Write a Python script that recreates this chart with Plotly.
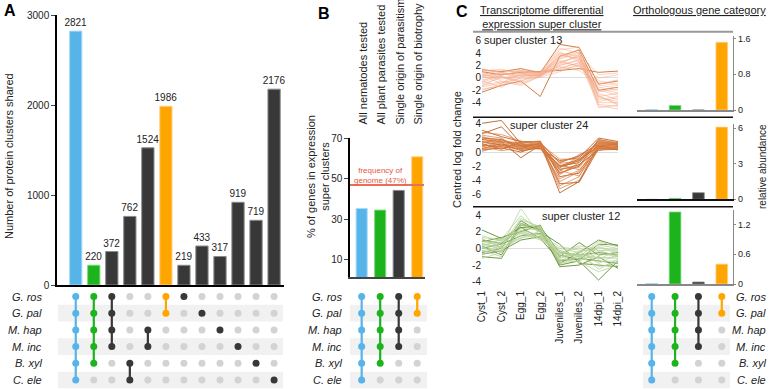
import plotly.graph_objects as go

W, H = 778, 389
def px(x): return x / W
def py(y): return 1 - y / H

FONT = "Liberation Sans, Arial, sans-serif"
BLUE, GREEN, DARK, ORANGE, GRAY = "#56b4e9", "#1db31d", "#383838", "#ffa500", "#d3d3d3"

# ---------------- data ----------------
species = ["G. ros", "G. pal", "M. hap", "M. inc", "B. xyl", "C. ele"]

# Panel A: protein clusters shared (UpSet)
a_values = [2821, 220, 372, 762, 1524, 1986, 219, 433, 317, 919, 719, 2176]
a_sets = [[0, 1, 2, 3, 4, 5], [0, 1, 2, 3, 4], [0, 1, 2, 3], [4, 5], [2, 3], [0, 1],
          [0], [1], [2], [3], [4], [5]]

# Panel B: % of genes in expression super clusters
b_categories = ["All nematodes tested", "All plant parasites tested",
                "Single origin of parasitism", "Single origin of biotrophy"]
b_values = [35.4, 34.6, 44.3, 60.9]
b_sets = [[0, 1, 2, 3, 4, 5], [0, 1, 2, 3, 4], [0, 1, 2, 3], [0, 1]]
genome_frequency = 47

# Panel C: expression profiles and relative abundance
timepoints = ["Cyst_1", "Cyst_2", "Egg_1", "Egg_2", "Juveniles_1", "Juveniles_2", "14dpi_1", "14dpi_2"]
cluster_names = ["super cluster 13", "super cluster 24", "super cluster 12"]

cluster13_profiles = [
    [1.3, 1.0, 1.5, 0.8, 5.4, 4.9, -1.0, -0.5],
    [-2.3, -1.2, -0.5, -3.0, 3.5, 4.5, -2.0, -1.5],
    [1.0, 0.5, 0.9, 1.0, 1.2, 1.5, 0.9, 1.1],
    [0.5, 1.2, 1.0, 0.8, 4.5, 5.0, -4.3, -4.6],
    [-1.5, -0.8, 0.0, 0.6, 3.0, 4.0, -3.5, -3.0],
    [0.0, 0.3, -0.5, 0.5, 2.5, 2.0, -1.5, -2.0],
    [-1.0, 0.0, 0.5, 0.3, 2.0, 3.0, -2.5, -3.5],
    [0.8, -0.5, -1.0, 0.2, 3.8, 3.0, -0.5, -1.0],
    [-0.5, -1.5, 0.2, 0.7, 1.5, 2.5, -4.0, -4.0],
    [1.5, 0.8, 0.3, 0.4, 4.0, 3.5, -3.0, -2.5],
    [-2.0, -1.0, 1.5, 0.9, 2.8, 1.8, 0.0, 0.5],
    [0.3, 0.8, -0.2, 0.1, 1.0, 2.2, -2.0, -2.8],
    [-0.8, 0.5, 1.0, 0.6, 3.2, 4.2, -4.5, -5.0],
    [0.6, -0.2, 0.4, 0.9, 1.8, 1.2, -1.0, -0.3],
    [-1.2, -0.6, -1.2, 0.3, 2.2, 3.8, -3.0, -4.2],
    [1.1, 1.4, 0.7, 1.0, 4.8, 4.0, 0.5, 0.8],
    [0.2, 0.6, 0.8, 0.5, 2.0, 2.8, -2.2, -1.8],
    [-0.3, 0.2, -0.8, 0.4, 3.6, 3.2, -3.8, -3.2],
    [1.2, 0.9, 1.2, 0.7, 2.6, 3.4, -1.2, -1.6],
    [-1.8, -1.3, 0.6, 0.2, 1.6, 2.4, -2.8, -4.4],
    [0.9, 0.2, -0.6, 0.9, 3.4, 4.6, -3.2, -3.8],
    [-0.6, 0.9, 0.3, 0.5, 1.4, 1.9, -0.8, -1.2],
    [0.4, -0.9, 0.8, 0.3, 2.4, 3.6, -4.8, -4.4],
    [-1.4, 0.4, 1.2, 0.8, 4.2, 2.6, -1.8, -2.4],
]
cluster24_profiles = [
    [4.1, 4.5, 1.2, 1.0, -2.0, -1.5, 1.5, 1.0],
    [3.1, 2.2, 1.5, 1.4, -5.8, -4.2, 1.0, 0.8],
    [2.6, 3.6, 0.8, 1.2, -4.5, -4.3, 0.5, 0.6],
    [1.8, 1.5, -0.8, 1.0, -3.0, -2.0, 1.8, 1.2],
    [1.5, 1.0, 1.0, 0.8, -2.0, -1.0, 0.8, 0.6],
    [1.0, 0.8, 0.5, 1.3, -1.5, -0.5, 1.2, 1.0],
    [0.5, 1.2, 0.2, 0.6, -2.5, -1.8, 0.3, 0.4],
    [1.2, 0.4, 1.4, 1.5, -3.5, -3.0, 0.6, 1.4],
    [2.0, 1.8, 0.9, 0.5, -1.2, -0.8, 2.0, 1.5],
    [0.3, 0.6, 0.0, 0.9, -2.2, -1.2, 0.9, 0.3],
    [1.6, 1.3, 1.1, 1.1, -4.8, -3.5, 1.4, 0.9],
    [0.8, 0.2, 0.6, 0.4, -1.8, -2.5, 0.2, 0.8],
    [2.2, 1.6, 1.3, 1.6, -3.2, -1.5, 1.6, 1.1],
    [1.3, 1.9, 0.4, 0.7, -2.8, -0.3, 0.4, 0.5],
    [0.1, 0.9, 0.8, 1.2, -1.0, -1.0, 1.1, 1.3],
    [2.8, 2.5, 1.6, 0.9, -5.2, -4.0, 0.7, 0.7],
    [1.9, 1.1, 0.7, 1.0, -2.4, -2.2, 1.3, 0.9],
    [0.7, 1.5, 1.2, 0.6, -3.8, -2.6, 0.8, 1.2],
    [2.4, 2.0, 0.3, 1.4, -1.6, -1.3, 1.7, 1.4],
    [1.1, 0.5, 0.9, 0.9, -2.6, -3.4, 0.5, 0.6],
    [0.4, 1.0, 1.5, 1.2, -3.0, -1.8, 1.0, 0.9],
    [1.4, 0.9, 0.4, 0.7, -1.4, -0.6, 0.6, 1.1],
    [2.1, 1.4, 1.0, 1.3, -4.2, -2.8, 1.2, 0.5],
    [0.9, 1.7, 0.6, 0.8, -2.0, -1.1, 1.5, 1.2],
]
cluster12_profiles = [
    [2.2, 1.2, 2.5, 2.6, -0.5, -0.8, -0.5, -0.8],
    [-1.0, -1.2, 2.8, 2.4, -2.0, -1.5, -3.8, -1.5],
    [0.8, 1.3, 2.0, 2.8, -1.8, -0.5, 1.0, 0.3],
    [1.0, 0.6, 2.5, 1.2, -1.5, -1.2, -1.5, -1.8],
    [0.3, -0.8, 3.0, 2.2, -2.2, -2.0, -1.0, -2.4],
    [-0.5, 0.0, 3.3, 2.0, 0.5, -1.8, -2.0, -2.2],
    [0.0, 0.5, 1.5, 1.8, -1.0, 0.7, -0.8, -0.5],
    [-0.7, -0.3, 1.0, 1.4, -0.8, -1.4, 0.5, 0.4],
    [1.5, 0.9, 2.2, 1.6, 0.2, -0.2, -0.3, -0.1],
    [-0.3, 0.3, 3.6, 2.5, -1.2, -0.6, -2.5, -1.3],
    [0.6, 1.0, 1.8, 1.0, -0.3, -1.0, 0.8, 0.2],
    [-1.2, -0.5, 2.7, 2.7, -1.6, -0.3, -1.8, -0.7],
    [1.2, 0.0, 1.2, 2.1, -0.6, 0.3, -0.2, -1.0],
    [0.2, 1.1, 3.9, 1.9, -1.3, -1.6, -2.8, -2.0],
    [-0.2, -1.0, 2.0, 1.3, -0.2, -1.1, 0.2, -0.4],
    [0.5, 0.2, 4.8, 1.5, -0.5, -1.0, -1.2, -1.0],
    [0.4, 0.8, 2.4, 2.2, -0.9, -0.7, -1.1, -1.2],
    [-0.4, -0.2, 1.6, 1.7, -1.4, -1.2, -0.4, -0.8],
    [0.9, 0.4, 3.0, 2.4, -1.1, -0.4, -1.6, -1.5],
    [0.1, -0.5, 2.2, 1.1, -0.4, -1.3, 0.1, -0.6],
    [1.3, 1.0, 2.8, 2.0, -1.7, -1.5, -0.6, -1.0],
    [-0.8, 0.2, 1.3, 1.5, -0.7, 0.1, -1.3, -0.2],
    [0.6, -0.1, 3.4, 2.6, -1.9, -0.9, -2.2, -1.7],
    [0.0, 0.7, 1.9, 1.2, 0.0, -0.5, 0.4, 0.0],
]
abundance_c13 = [0.01, 0.10, 0.0, 1.52]
abundance_c24 = [0.0, 0.08, 0.56, 6.1]
abundance_c12 = [0.01, 1.45, 0.04, 0.40]
c_sets = b_sets

# ---------------- figure ----------------
fig = go.Figure()
layout = dict(width=W, height=H, margin=dict(l=0, r=0, t=0, b=0, pad=0, autoexpand=False), autosize=False,
              paper_bgcolor="white", plot_bgcolor="rgba(0,0,0,0)", showlegend=False,
              font=dict(family=FONT, size=10, color="#222"))
shapes, annotations = [], []

def ann(x, y, text, size=11, xanchor="center", yanchor="middle", angle=0, color="#222", yref="paper", **kw):
    d = dict(x=px(x), y=(py(y) if yref == "paper" else y), xref="paper", yref=yref, text=text,
             xanchor=xanchor, yanchor=yanchor, textangle=angle, showarrow=False,
             font=dict(size=size, color=color, **kw))
    annotations.append(d)

def set_color(s):
    if len(s) == 6: return BLUE
    if len(s) == 5: return GREEN
    if s == [0, 1]: return ORANGE
    return DARK

def edge(c):
    return {BLUE: "#a9dcf7", GREEN: "#7fd87f", DARK: "#8a8a8a", ORANGE: "#ffd08a"}[c]

def hidden_axis(domain, rng, anchor):
    return dict(domain=domain, range=rng, visible=False, fixedrange=True, anchor=anchor, automargin=False)

def matrix(xa, ya, sets, xdom, xrng, band_x0, band_x1):
    gx, gy = [], []
    for i, s in enumerate(sets):
        c = set_color(s)
        for r in range(len(species)):
            if r not in s:
                gx.append(i); gy.append(r)
        if len(s) > 1:
            fig.add_trace(go.Scatter(x=[i, i], y=[min(s), max(s)], mode="lines",
                                     line=dict(color=c, width=2.2), xaxis=xa, yaxis=ya, hoverinfo="skip"))
        fig.add_trace(go.Scatter(x=[i] * len(s), y=s, mode="markers",
                                 marker=dict(color=c, size=7), xaxis=xa, yaxis=ya))
    fig.add_trace(go.Scatter(x=gx, y=gy, mode="markers", marker=dict(color=GRAY, size=7),
                             xaxis=xa, yaxis=ya))
    layout["xaxis" + xa[1:]] = hidden_axis(xdom, xrng, ya)
    layout["yaxis" + ya[1:]] = hidden_axis([0, py(288)], [5.54, -0.51], xa)
    for r in (1, 3, 5):
        shapes.append(dict(type="rect", xref="paper", yref=ya, x0=px(band_x0), x1=px(band_x1),
                           y0=r - 0.5, y1=r + 0.5, fillcolor="#f1f1f1", line=dict(width=0), layer="below"))

# ---- Panel A ----
a_cols = [set_color(s) for s in a_sets]
fig.add_trace(go.Bar(x=list(range(len(a_values))), y=a_values, width=0.68,
                     marker=dict(color=a_cols, line=dict(color=[edge(c) for c in a_cols], width=1)),
                     text=[str(v) for v in a_values], textposition="outside", constraintext="none",
                     cliponaxis=False, textfont=dict(size=10, color="#222"), xaxis="x", yaxis="y"))
a_xrng = [-1.04, 11.55]
layout["xaxis"] = dict(domain=[px(57), px(284)], range=a_xrng, showticklabels=False, ticks="",
                       showgrid=False, zeroline=False,
                       showline=True, linecolor="black", linewidth=1.5, anchor="y", fixedrange=True)
layout["yaxis"] = dict(domain=[py(285), py(15)], range=[0, 3000], tickvals=[0, 1000, 2000, 3000],
                       showline=True, linecolor="black", linewidth=1.5, ticks="outside", ticklen=4,
                       showgrid=False, zeroline=False, anchor="x", tickfont=dict(size=10))
matrix("x2", "y2", a_sets, [px(57), px(284)], a_xrng, 58, 283)
for r, sp in enumerate(species):
    ann(44, r, f"<i>{sp}</i>", xanchor="right", yref="y2")
ann(9, 156, "Number of protein clusters shared", angle=-90)
ann(2, 0, "<b>A</b>", size=16, xanchor="left", yanchor="top", color="black")

# ---- Panel B ----
b_cols = [set_color(s) for s in b_sets]
b_xrng = [-0.63, 3.42]
fig.add_trace(go.Bar(x=list(range(4)), y=b_values, width=0.6,
                     marker=dict(color=b_cols, line=dict(color=[edge(c) for c in b_cols], width=1)),
                     xaxis="x3", yaxis="y3"))
layout["xaxis3"] = dict(domain=[px(350), px(425)], range=b_xrng, showticklabels=False, ticks="",
                        showgrid=False, zeroline=False,
                        showline=True, linecolor="#444", linewidth=2, anchor="y3", fixedrange=True)
layout["yaxis3"] = dict(domain=[py(277), py(138.3)], range=[1.6, 70], tickvals=[10, 30, 50, 70],
                        showline=True, linecolor="black", linewidth=1.5, ticks="outside", ticklen=4,
                        showgrid=False, zeroline=False, anchor="x3", tickfont=dict(size=10))
shapes.append(dict(type="line", xref="paper", yref="y3", x0=px(350), x1=px(424),
                   y0=genome_frequency, y1=genome_frequency, line=dict(color="#ea6f5a", width=2)))
ann(380, 175, f"frequency of<br>genome ({genome_frequency}%)", size=8, color="#e8573c")
b_label_x = [362, 380.5, 399.5, 417.5]
for i, lab in enumerate(b_categories):
    ann(b_label_x[i], 127, lab, angle=-90, yanchor="bottom")
ann(318, 177, "% of genes in expression<br>super clusters", angle=-90)
matrix("x4", "y4", b_sets, [px(350), px(425)], b_xrng, 350, 427)
for r, sp in enumerate(species):
    ann(344, r, f"<i>{sp}</i>", xanchor="right", yref="y4")
ann(316, 3, "<b>B</b>", size=16, xanchor="left", yanchor="top", color="black")

# ---- Panel C: line panels ----
profiles = [cluster13_profiles, cluster24_profiles, cluster12_profiles]
line_doms = [(35, 112), (119, 202), (209, 288)]
line_rngs = [[-5.5, 6.92], [-7.1, 4.71], [-4.75, 4.72]]
line_ticks = [[6, 4, 2, 0, -2, -4], [4, 2, 0, -2, -4, -6], [4, 2, 0, -2, -4]]
dark_cols = ["rgba(208,118,56,0.95)", "rgba(192,96,34,0.9)", "rgba(98,142,48,0.9)"]
light_cols = ["rgba(246,172,140,0.55)", "rgba(216,124,64,0.7)", "rgba(182,210,152,0.75)"]
n_dark = [3, 10, 8]
label_pos = [(482, 40, "left"), (549, 125, "center"), (581, 216, "center")]
for k in range(3):
    ax = str(5 + k)
    for j, prof in enumerate(profiles[k]):
        col = dark_cols[k] if j < n_dark[k] else light_cols[k]
        fig.add_trace(go.Scatter(x=list(range(8)), y=prof, mode="lines",
                                 line=dict(color=col, width=1), xaxis="x" + ax, yaxis="y" + ax,
                                 hoverinfo="skip"))
    bottom = k == 2
    layout["xaxis" + ax] = dict(domain=[px(482), px(618)], range=[0, 7], anchor="y" + ax,
                                showgrid=False, zeroline=False, showline=False, ticks="",
                                tickvals=list(range(8)), ticktext=timepoints,
                                showticklabels=bottom, tickangle=-90, tickfont=dict(size=10),
                                fixedrange=True)
    d0, d1 = line_doms[k]
    layout["yaxis" + ax] = dict(domain=[py(d1), py(d0)], range=line_rngs[k], anchor="x" + ax,
                                tickvals=line_ticks[k], ticktext=[str(t) for t in line_ticks[k]],
                                showgrid=False, zeroline=True, zerolinecolor="#dddddd", zerolinewidth=1,
                                showline=False, ticks="", tickfont=dict(size=10), fixedrange=True)
    lx, ly, anc = label_pos[k]
    ann(lx, ly, cluster_names[k], xanchor=anc)

# ---- Panel C: bar panels ----
abund = [abundance_c13, abundance_c24, abundance_c12]
bar_doms = [(36, 110), (124, 199.3), (210, 284)]
bar_rngs = [[0, 1.66], [0, 6.36], [0, 1.49]]
bar_ticks = [[0, 0.8, 1.6], [0, 3, 6], [0, 0.6, 1.2]]
axis_line_cols = ["#888888", "#111111", "#888888"]
c_xrng = [-0.63, 3.48]
c_cols = [set_color(s) for s in c_sets]
for k in range(3):
    ax = str(8 + k)
    fig.add_trace(go.Bar(x=list(range(4)), y=abund[k], width=0.5,
                         marker=dict(color=c_cols, line=dict(color=[edge(c) for c in c_cols], width=0.8)),
                         xaxis="x" + ax, yaxis="y" + ax))
    layout["xaxis" + ax] = dict(domain=[px(637), px(733)], range=c_xrng, anchor="y" + ax,
                                showticklabels=False, ticks="", showgrid=False, zeroline=False,
                                showline=True, linecolor=axis_line_cols[k], linewidth=1.5, fixedrange=True)
    d0, d1 = bar_doms[k]
    layout["yaxis" + ax] = dict(domain=[py(d1), py(d0)], range=bar_rngs[k], anchor="x" + ax, side="right",
                                tickvals=bar_ticks[k], ticktext=[str(t) for t in bar_ticks[k]],
                                showline=True, linecolor="#888888", linewidth=1.2, ticks="outside",
                                ticklen=2, tickcolor="#888888", showgrid=False, zeroline=False,
                                tickfont=dict(size=9), fixedrange=True)
matrix("x11", "y11", c_sets, [px(637), px(733)], c_xrng, 643, 730)
for r, sp in enumerate(species):
    ann(768, r, f"<i>{sp}</i>", xanchor="right", yref="y11")

# separators and titles
shapes.append(dict(type="line", xref="paper", yref="paper", x0=px(473), x1=px(733), y0=py(31.7), y1=py(31.7),
                   line=dict(color="#999999", width=2)))
for yy in (117.2, 206.7):
    shapes.append(dict(type="line", xref="paper", yref="paper", x0=px(473), x1=px(733), y0=py(yy), y1=py(yy),
                       line=dict(color="#111111", width=1.5)))
ann(542, 16.5, "Transcriptome differential<br>expression super cluster", lineposition="under")
ann(699, 10, "Orthologous gene category", lineposition="under")
ann(457, 150, "Centred log fold change", angle=-90)
ann(762, 167, "relative abundance", size=10, angle=-90)
ann(454, 1, "<b>C</b>", size=16, xanchor="left", yanchor="top", color="black")

layout["shapes"] = shapes
layout["annotations"] = annotations
fig.update_layout(**layout)
fig.update_xaxes(automargin=False)
fig.update_yaxes(automargin=False)
fig.write_html("out.html", config={"displayModeBar": False},
               post_script="document.body.style.margin='0px';document.body.style.overflow='hidden';")
